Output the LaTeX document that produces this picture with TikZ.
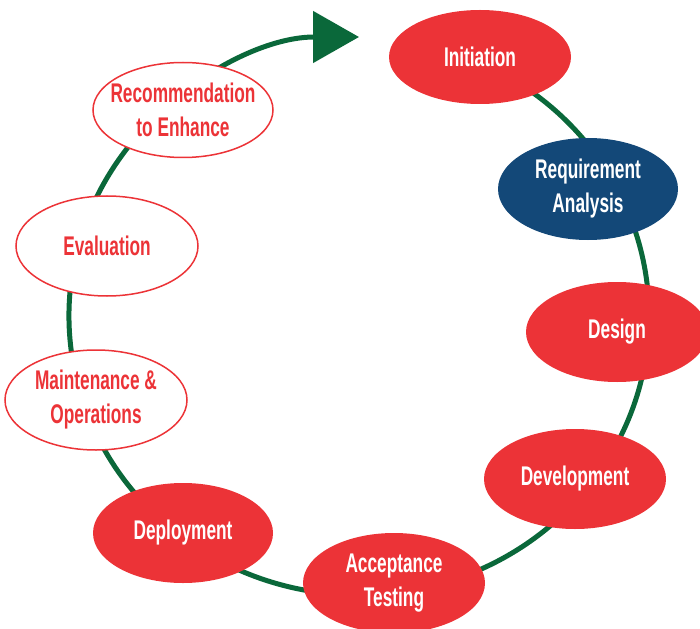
\documentclass[tikz,border=0pt]{standalone}
\usepackage{fontspec}
\newfontfamily\stagefont{Liberation Sans}[FakeStretch=0.64]
\usetikzlibrary{shapes.geometric,arrows.meta,backgrounds}

\definecolor{phasered}{RGB}{236,51,55}
\definecolor{phaseblue}{RGB}{19,72,120}
\definecolor{ringgreen}{RGB}{10,104,58}

\tikzset{
  phase/.style={ellipse, minimum width=182pt, minimum height=100pt, inner sep=0pt},
  full/.style={phase, fill=phasered},
  hollow/.style={phase, draw=phasered, line width=1.5pt, fill=white},
  caption/.style={font=\stagefont\bfseries\fontsize{27}{34}\selectfont, align=center, inner sep=0pt},
  ring/.style={draw=ringgreen, line width=5pt, -{Triangle[length=46pt,width=51pt]}}
}

\begin{document}
\begin{tikzpicture}[x=1pt,y=1pt]
        \useasboundingbox (0,0) rectangle (700,-628);

        \node[full, minimum height=94pt,
              label={[caption, text=white]center:Initiation}] (1) at (480,-57) {};
        \node[full, fill=phaseblue, minimum width=180pt, minimum height=102pt,
              label={[caption, text=white]center:Requirement\\Analysis}] (2) at (588,-189) {};
        \node[full, label={[caption, text=white]center:Design}] (3) at (617,-332) {};
        \node[full, label={[caption, text=white]center:Development}] (4) at (575,-479) {};
        \node[full, label={[caption, text=white]center:Acceptance\\Testing}] (5) at (394,-583) {};
        \node[full, minimum width=180pt,
              label={[caption, text=white]center:Deployment}] (6) at (183,-533) {};
        \node[hollow, label={[caption, text=phasered]center:Maintenance \&\\Operations}] (7) at (96,-400) {};
        \node[hollow, label={[caption, text=phasered]center:Evaluation}] (8) at (107,-246) {};
        \node[hollow, minimum width=180pt, minimum height=95pt,
              label={[caption, text=phasered]center:Recommendation\\to Enhance}] (9) at (183,-110) {};

        \begin{scope}[on background layer]
          \coordinate (hub) at (359,-316);
          \draw[ring] ([shift={(60:290pt and 279pt)}]hub)
            arc[start angle=60, end angle=-270, x radius=290pt, y radius=279pt];
        \end{scope}

\end{tikzpicture}
\end{document}
